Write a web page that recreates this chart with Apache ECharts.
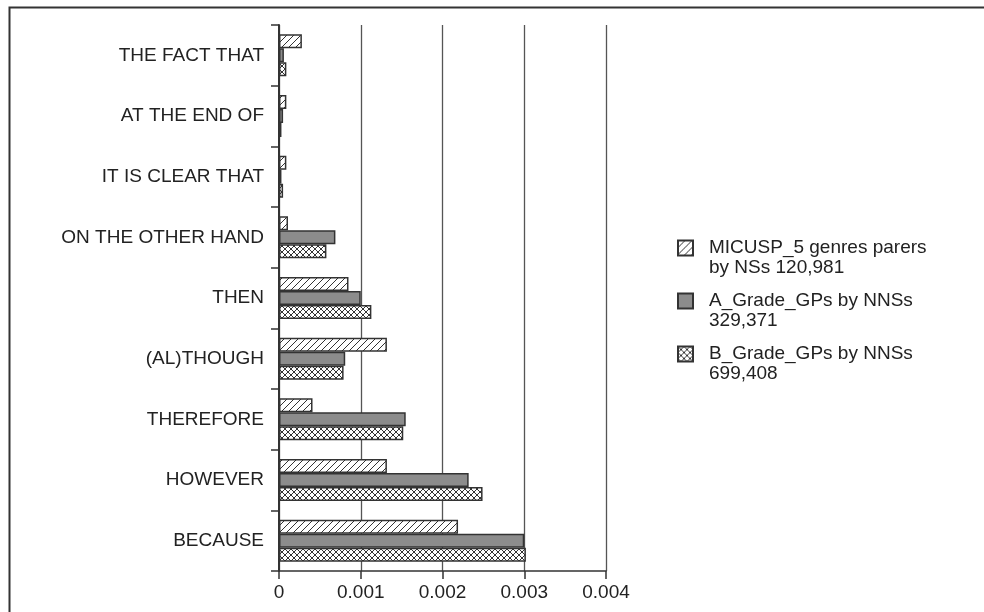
<!DOCTYPE html>
<html>
<head>
<meta charset="utf-8">
<script src="https://cdn.jsdelivr.net/npm/echarts@6/dist/echarts.min.js"></script>
<style>
html,body{margin:0;padding:0;background:#fff;}
#chart{width:984px;height:612px;}
</style>
</head>
<body>
<div id="chart"></div>
<script>
// ---- data (bottom to top) ----
var categories = ['BECAUSE','HOWEVER','THEREFORE','(AL)THOUGH','THEN','ON THE OTHER HAND','IT IS CLEAR THAT','AT THE END OF','THE FACT THAT'];
var seriesNames = ['MICUSP_5 genres parers\nby NSs 120,981','A_Grade_GPs by NNSs\n329,371','B_Grade_GPs by NNSs\n699,408'];
var micuspValues = [0.00219, 0.00132, 0.00041, 0.00132, 0.00085, 0.00011, 0.00009, 0.00009, 0.00028];
var aGradeValues = [0.00300, 0.00232, 0.00155, 0.00081, 0.00100, 0.00069, 0.00003, 0.00005, 0.00006];
var bGradeValues = [0.00302, 0.00249, 0.00152, 0.00079, 0.00113, 0.00058, 0.00005, 0.00003, 0.00009];
var xTicks = [0, 0.001, 0.002, 0.003, 0.004];

function hatchCanvas(step, both) {
  var n = step * 4;
  var c = document.createElement('canvas');
  c.width = n; c.height = n;
  var g = c.getContext('2d');
  g.fillStyle = '#fff';
  g.fillRect(0, 0, n, n);
  g.strokeStyle = '#333';
  g.lineWidth = 1;
  for (var k = -n; k <= 2 * n; k += step) {
    g.beginPath(); g.moveTo(k, n); g.lineTo(k + n, 0); g.stroke();
    if (both) { g.beginPath(); g.moveTo(k, 0); g.lineTo(k + n, n); g.stroke(); }
  }
  return c;
}
var slashPattern = {image: hatchCanvas(7, false), repeat: 'repeat'};
var crossPattern = {image: hatchCanvas(6, true), repeat: 'repeat'};

var FONT = '"Liberation Sans", Arial, sans-serif';
var chart = echarts.init(document.getElementById('chart'), null, {renderer: 'canvas'});
var border = {borderColor: '#333', borderWidth: 1.5};

chart.setOption({
  animation: false,
  backgroundColor: '#fff',
  textStyle: {fontFamily: FONT},
  graphic: [{
    type: 'rect', left: 7, top: 5, silent: true,
    shape: {width: 1000, height: 700},
    style: {fill: 'none', stroke: '#333', lineWidth: 2}
  }],
  grid: {left: 279, right: 378, top: 25, bottom: 41, containLabel: false},
  legend: {
    orient: 'vertical', left: 677, top: 218, padding: 0,
    icon: 'rect',
    itemWidth: 15, itemHeight: 15, itemGap: -7,
    data: seriesNames,
    formatter: function (name) { return ' \n' + name; },
    textStyle: {fontFamily: FONT, fontSize: 19, color: '#222', lineHeight: 20, padding: [0, 0, 0, 11]}
  },
  xAxis: {
    type: 'value', min: 0, max: 0.004, interval: 0.001,
    axisLine: {show: true, lineStyle: {color: '#333', width: 1.5}},
    axisTick: {show: true, length: 8, lineStyle: {color: '#333', width: 1.5}},
    splitLine: {show: true, lineStyle: {color: '#555', width: 1.3}},
    axisLabel: {
      margin: 12, fontSize: 19, color: '#222', fontFamily: FONT,
      formatter: function (v) {
        for (var i = 0; i < xTicks.length; i++) {
          if (Math.abs(v - xTicks[i]) < 1e-9) return xTicks[i] === 0 ? '0' : xTicks[i].toFixed(3);
        }
        return '';
      }
    }
  },
  yAxis: {
    type: 'category', data: categories,
    axisLine: {show: true, lineStyle: {color: '#333', width: 2}},
    axisTick: {show: true, length: 8, lineStyle: {color: '#333', width: 1.5}},
    axisLabel: {margin: 15, fontSize: 19, color: '#222', fontFamily: FONT}
  },
  series: [
    {name: seriesNames[0], type: 'bar', data: micuspValues, barWidth: 14, barGap: '0%',
     itemStyle: Object.assign({color: slashPattern}, border)},
    {name: seriesNames[1], type: 'bar', data: aGradeValues, barWidth: 14, barGap: '0%',
     itemStyle: Object.assign({color: '#8c8c8c'}, border)},
    {name: seriesNames[2], type: 'bar', data: bGradeValues, barWidth: 14, barGap: '0%',
     itemStyle: Object.assign({color: crossPattern}, border)}
  ]
});
</script>
</body>
</html>
